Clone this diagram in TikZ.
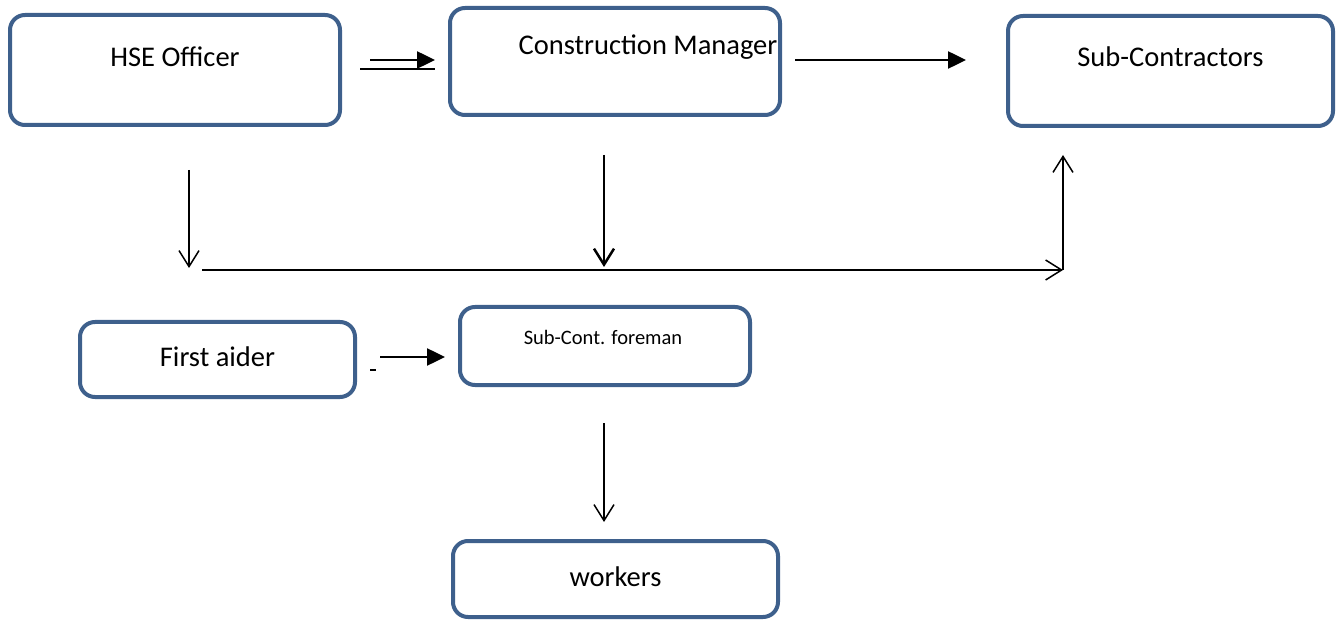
\documentclass[tikz,border=0pt]{standalone}
\usepackage{fontspec}
\setmainfont{Carlito}
\usetikzlibrary{arrows.meta}
\definecolor{boxblue}{RGB}{62,96,140}
\tikzset{
  orgbox/.style={draw=boxblue, line width=4pt, rounded corners=15pt, fill=white, inner sep=0pt},
  bigtxt/.style={font=\fontsize{28.5}{30}\selectfont},
  smalltxt/.style={font=\fontsize{20.5}{22}\selectfont},
  solidarrow/.style={line width=2.5pt, -{Triangle[length=18pt,width=17pt]}},
  openarrow/.style={line width=1.5pt, -{Straight Barb[length=16pt,width=20pt]}},
}
\begin{document}
\begin{tikzpicture}[x=1pt, y=-1pt]
\useasboundingbox (0,0) rectangle (1336,620);
% boxes
\node[orgbox, minimum width=330, minimum height=110] (hse) at (175,70) {};
\node[orgbox, minimum width=330, minimum height=107] (cm) at (615,61.5) {};
\node[orgbox, minimum width=325, minimum height=110] (sc) at (1170.5,71) {};
\node[orgbox, minimum width=275, minimum height=75] (fa) at (217.5,359.5) {};
\node[orgbox, minimum width=290, minimum height=78] (fm) at (605,346) {};
\node[orgbox, minimum width=325, minimum height=76] (wk) at (615.5,579) {};
% texts
\node[bigtxt] (hsetxt) at ([yshift=13]hse.center) {HSE Officer};
\node[bigtxt] (cmtxt) at ([xshift=33,yshift=14.5]cm.center) {Construction Manager};
\node[bigtxt] (sctxt) at ([yshift=14]sc.center) {Sub-Contractors};
\node[bigtxt] (fatxt) at ([yshift=2.5]fa.center) {First aider};
\node[smalltxt] (fmtxt) at ([xshift=-2,yshift=9]fm.center) {Sub-Cont. foreman};
\node[bigtxt] (wktxt) at ([yshift=2]wk.center) {workers};
% bus line
\coordinate (busL) at (202,270);
\coordinate (busM) at (604,270);
\coordinate (busR) at (1063,270);

% top row
\draw[solidarrow] ([xshift=28,yshift=10]hse.east) -- ([xshift=-13,yshift=1.5]cm.west);
\draw[line width=2.5pt] ([xshift=18,yshift=1]hse.east) -- ([xshift=-13,yshift=-7.5]cm.west);
\draw[solidarrow] ([xshift=13,yshift=1.5]cm.east) -- ([xshift=-40,yshift=11]sc.west);

% down to the bus and up
\draw[openarrow] ([xshift=14,yshift=-43]hse.south) -- ([xshift=-13,yshift=2]busL);
\draw[openarrow, line width=2.5pt] ([xshift=-11,yshift=-38]cm.south) -- ([yshift=3]busM);
\draw[openarrow] (busL) -- (busR);
\draw[openarrow] (busR) -- ([xshift=-107.5,yshift=-27]sc.south);

% lower part
\draw[solidarrow] ([xshift=23,yshift=2.5]fa.east) -- ([xshift=-13,yshift=-11]fm.west);
\draw[line width=1.5pt] ([xshift=13,yshift=-10.5]fa.east) -- ++(6,0);
\draw[openarrow] ([xshift=-1,yshift=-36]fm.south) -- ([xshift=-11.5,yshift=17]wk.north);
\end{tikzpicture}
\end{document}
